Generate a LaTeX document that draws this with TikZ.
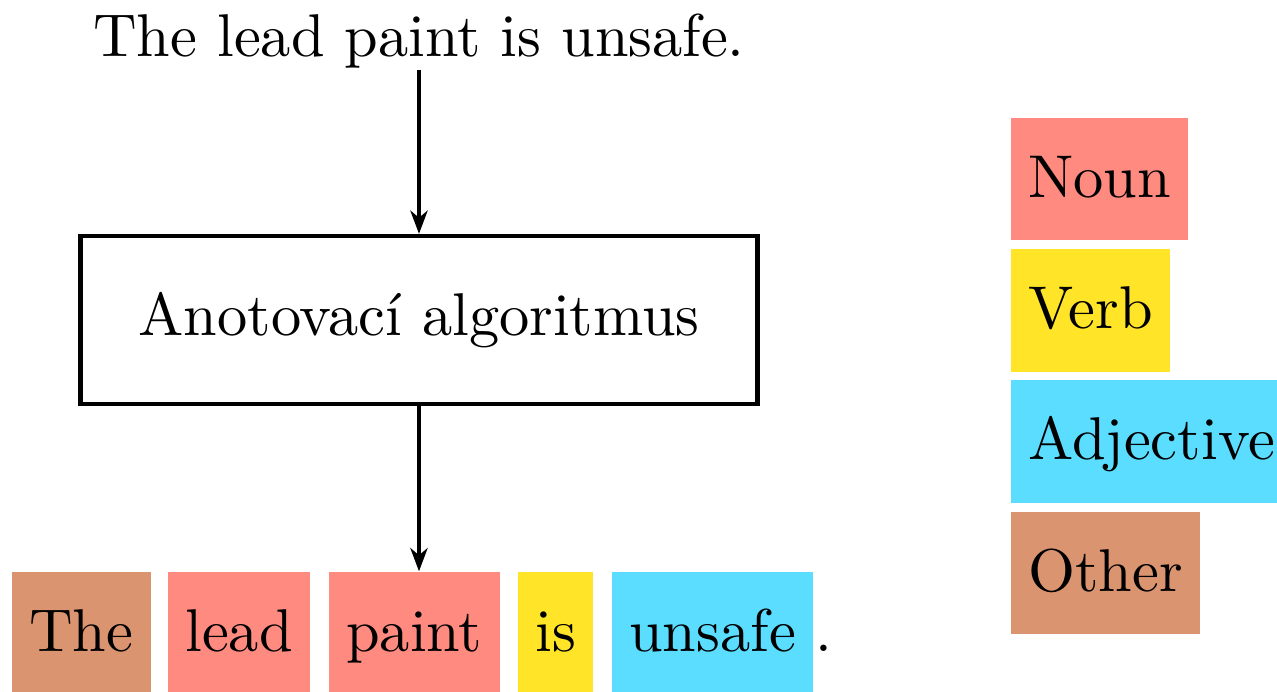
\documentclass[tikz,border=0pt]{standalone}
\usetikzlibrary{arrows.meta}
\definecolor{nouncol}{HTML}{FF8A80}
\definecolor{verbcol}{HTML}{FFE428}
\definecolor{adjcol}{HTML}{5ADDFF}
\definecolor{othcol}{HTML}{DB9470}
\begin{document}
\begin{tikzpicture}[x=0.16807pt,y=-0.16807pt,
  font=\fontsize{10.15}{12}\selectfont,
  tagbox/.style={anchor=base west, inner xsep=2.89pt, inner ysep=0pt,
    text height=13.36pt, text depth=7.23pt},
  algobox/.style={draw, line width=0.72pt, minimum width=113.75pt, minimum height=28.24pt},
  flow/.style={line width=0.62pt, -{Stealth[length=3.9pt,width=2.9pt,inset=1.2pt]}}]
\useasboundingbox (0,0) rectangle (1277,692);
\node[anchor=base, inner sep=0pt] (src) at (419,57) {The lead paint is unsafe.};
\node[algobox] (algo) at (419,320) {Anotovací algoritmus};
\node[tagbox, fill=othcol] (w1) at (11,652) {The};
\node[tagbox, fill=nouncol] (w2) at (167,652) {lead};
\node[tagbox, fill=nouncol] (w3) at (328,652) {paint};
\node[tagbox, fill=verbcol] (w4) at (517,652) {is};
\node[tagbox, fill=adjcol] (w5) at (611,652) {unsafe};
\node[anchor=base west, inner sep=0pt] (dot) at (w5.base east) {.};
\node[tagbox, fill=nouncol] (l1) at (1010,197.5) {Noun};
\node[tagbox, fill=verbcol] (l2) at (1010,328.8) {Verb};
\node[tagbox, fill=adjcol] (l3) at (1010,460) {Adjective};
\node[tagbox, fill=othcol] (l4) at (1010,591.3) {Other};
\draw[flow] (src.south) -- (algo.north);
\draw[flow] (algo.south) -- (algo.south |- w3.north);
\end{tikzpicture}
\end{document}
